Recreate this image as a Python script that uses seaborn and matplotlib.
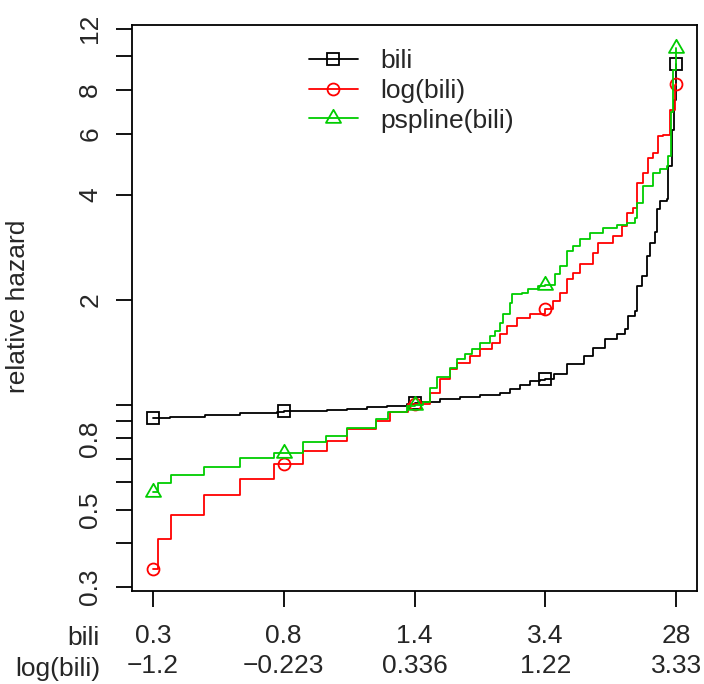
import numpy as np
import pandas as pd
import matplotlib
matplotlib.use("Agg")
import matplotlib.pyplot as plt
import seaborn as sns
from matplotlib.path import Path
from matplotlib.lines import Line2D
from matplotlib.ticker import NullLocator

# x: percentile position of patient in sorted bilirubin; y: relative hazard
bili_x = [0, 3.31, 9.99, 16.7, 23.7, 25, 28.5, 33.2, 37.1, 40.9,
          44.7, 48.5, 50, 51.1, 54.9, 58.7, 62.5, 66.4, 68.3, 70.2,
          72.1, 74.0, 75, 76.6, 79.1, 82.3, 84.2, 86.4, 88.7, 90.3,
          90.9, 92.2, 92.6, 93.4, 94.4, 95.0, 96.0, 96.3, 96.9, 98.2,
          98.5, 99.2, 99.6, 100]
bili_y = [0.913, 0.925, 0.937, 0.945, 0.952, 0.958, 0.961, 0.966, 0.975, 0.982,
          0.992, 1.003, 1.010, 1.015, 1.037, 1.049, 1.065, 1.084, 1.108, 1.141,
          1.166, 1.178, 1.189, 1.223, 1.307, 1.380, 1.459, 1.541, 1.593, 1.646,
          1.797, 1.857, 2.191, 2.341, 2.671, 2.918, 3.123, 3.635, 3.840, 3.883,
          4.838, 6.16, 7.51, 9.53]

logbili_x = [0, 0.88, 3.44, 9.80, 16.55, 23.05, 25, 28.66, 33.25, 37.07,
             42.67, 45.35, 48.84, 50, 53.0, 54.9, 56.81, 58.09, 60.63, 62.54,
             64.78, 66.37, 67.65, 69.56, 72.10, 75, 76.55, 77.83, 79.11, 80.37,
             81.66, 84.2, 85.15, 88.02, 89.62, 90.58, 91.84, 92.49, 93.75, 94.71,
             95.66, 96.62, 97.57, 98.85, 99.81, 100]
logbili_y = [0.338, 0.412, 0.482, 0.550, 0.614, 0.675, 0.675, 0.737, 0.787, 0.851,
             0.899, 0.954, 1.003, 1.005, 1.084, 1.183, 1.264, 1.321, 1.380, 1.443,
             1.508, 1.593, 1.682, 1.778, 1.817, 1.878, 1.984, 2.097, 2.290, 2.393,
             2.528, 2.731, 2.918, 3.047, 3.256, 3.557, 3.676, 4.335, 4.632, 5.113,
             5.285, 5.897, 5.963, 7.034, 8.295, 8.35]

pspline_x = [0, 0.88, 3.44, 9.80, 16.55, 23.05, 25, 28.66, 33.12, 37.07,
             42.67, 45.02, 48.54, 50, 51.71, 52.99, 54.27, 56.81, 58.09, 59.68,
             60.96, 62.54, 64.46, 65.41, 66.37, 67.0, 68.28, 68.6, 70.51, 71.77,
             73.68, 75, 76.88, 77.83, 79.11, 80.37, 81.66, 83.56, 86.11, 88.67,
             90.58, 92.17, 92.49, 93.75, 95.66, 96.94, 98.22, 98.53, 99.0, 99.48,
             100]
pspline_y = [0.562, 0.596, 0.628, 0.663, 0.702, 0.729, 0.729, 0.782, 0.814, 0.860,
             0.909, 0.956, 0.992, 1.0, 1.015, 1.120, 1.197, 1.278, 1.350, 1.396,
             1.443, 1.508, 1.575, 1.628, 1.720, 1.817, 1.963, 2.074, 2.097, 2.144,
             2.191, 2.21, 2.367, 2.500, 2.760, 2.853, 2.982, 3.117, 3.221, 3.271,
             3.329, 3.441, 3.800, 4.239, 4.632, 4.734, 4.838, 5.168, 6.90, 9.16,
             10.54]

series = ["bili", "log(bili)", "pspline(bili)"]
quantile_pos = [0, 25, 50, 75, 100]
bili_labels = ["0.3", "0.8", "1.4", "3.4", "28"]
logbili_labels = ["\u22121.2", "\u22120.223", "0.336", "1.22", "3.33"]
ytick_vals = [0.3, 0.4, 0.5, 0.6, 0.7, 0.8, 0.9, 1, 2, 4, 6, 8, 10, 12]
ytick_labels = ["0.3", "", "0.5", "", "", "0.8", "", "", "2", "4", "6", "8", "", "12"]

FS = 19
sns.set_style("white")
plt.rcParams['font.family'] = ['Liberation Sans', 'DejaVu Sans']

fig = plt.figure(figsize=(7.04, 6.84), dpi=100)
ax = fig.add_axes([0.1875, 0.1360, 0.8026, 0.8275])

tri = Path([(0, 1), (-0.866, -0.5), (0.866, -0.5), (0, 1)],
           [Path.MOVETO, Path.LINETO, Path.LINETO, Path.CLOSEPOLY])

specs = [
    (bili_x, bili_y, "black", "s", 8.0),
    (logbili_x, logbili_y, "#FF0000", "o", 8.6),
    (pspline_x, pspline_y, "#00CD00", tri, 12.5),
]
LW = 1.3
handles = []
for name, (x, y, c, m, ms) in zip(series, specs):
    df = pd.DataFrame({"x": x, "y": y})
    mk_idx = [i for i, v in enumerate(x) if v in quantile_pos]
    sns.lineplot(data=df, x="x", y="y", ax=ax, color=c, drawstyle="steps-post",
                 linewidth=LW, marker=m, markevery=mk_idx, markersize=ms,
                 markerfacecolor="none", markeredgecolor=c, markeredgewidth=LW,
                 estimator=None, sort=False, legend=False)
    handles.append(Line2D([], [], color=c, lw=LW, marker=m, markersize=ms,
                          markerfacecolor="none", markeredgecolor=c,
                          markeredgewidth=LW))

ax.set_yscale("log")
ax.set_ylim(0.292, 12.3)
ax.set_xlim(-4, 104)
ax.set_yticks(ytick_vals)
ax.set_yticklabels(ytick_labels, rotation=90, va="center", fontsize=FS)
ax.yaxis.set_minor_locator(NullLocator())
ax.set_xticks(quantile_pos)
ax.set_xticklabels([f"{a}\n{b}" for a, b in zip(bili_labels, logbili_labels)],
                   fontsize=FS, linespacing=1.33)
ax.set_xlabel("")
ax.set_ylabel("")
ax.tick_params(axis="both", direction="out", length=11.5, width=LW, color="black",
               left=True, bottom=True)
ax.tick_params(axis="x", pad=12)
ax.tick_params(axis="y", pad=10)
for s in ax.spines.values():
    s.set_visible(True)
    s.set_color("black")
    s.set_linewidth(LW)

fig.text(18 / 704, 1 - 306.5 / 684, "relative hazard", rotation=90,
         ha="center", va="center", fontsize=FS)
fig.text(100 / 704, 1 - 645 / 684, "bili", ha="right", va="baseline", fontsize=FS)
fig.text(100 / 704, 1 - 676 / 684, "log(bili)", ha="right", va="baseline", fontsize=FS)

ax.legend(handles, series, loc="upper left", bbox_to_anchor=(309 / 704, 1 - 49 / 684),
          bbox_transform=fig.transFigure, frameon=False, handlelength=1.85,
          handletextpad=0.85, labelspacing=0.22, borderpad=0, borderaxespad=0,
          fontsize=FS)

fig.savefig("out.png", dpi=100)
